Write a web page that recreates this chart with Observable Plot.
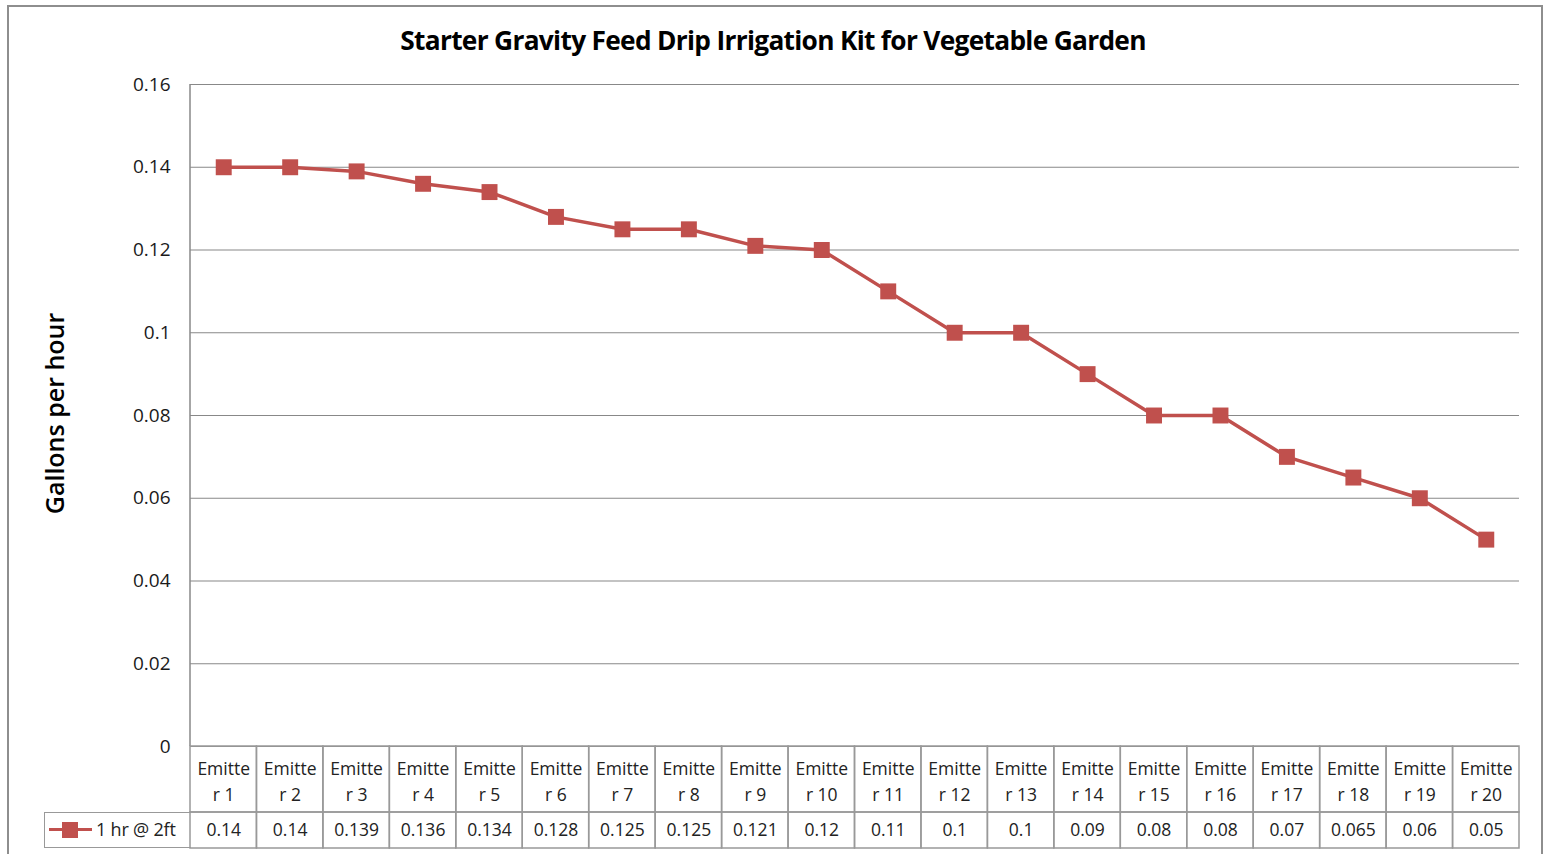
<!DOCTYPE html>
<html><head><meta charset="utf-8">
<script src="https://cdn.jsdelivr.net/npm/d3@7"></script>
<script src="https://cdn.jsdelivr.net/npm/@observablehq/plot@0.6"></script>
<style>
html,body{margin:0;padding:0;background:#fff;width:1546px;height:854px;overflow:hidden;font-family:"Open Sans",sans-serif;}
#frame{position:absolute;left:7px;top:5px;width:1536px;height:900px;border:2px solid #8e8e8e;box-sizing:border-box;}
.abs{position:absolute;}
#title{left:0;width:1546px;top:24px;line-height:32px;text-align:center;font-weight:700;font-size:26.3px;letter-spacing:-0.7px;color:#000;}
#chart{left:0;top:60px;}
#thead{left:0;top:745px;}
#tvals{left:0;top:811px;}
#legend{left:44px;top:812px;width:147px;height:36px;border:1.5px solid #999;border-right:none;box-sizing:border-box;}
#legline{left:4px;top:15px;width:43px;height:3px;background:#c0504d;}
#legsq{left:17px;top:9px;width:16px;height:16px;background:#c0504d;}
#legtxt{left:51px;top:0;line-height:32px;font-size:18px;color:#222;white-space:nowrap;letter-spacing:-0.2px;}
svg{background:transparent !important;}
</style></head>
<body>
<div id="frame"></div>
<div id="title" class="abs">Starter Gravity Feed Drip Irrigation Kit for Vegetable Garden</div>
<div id="chart" class="abs"></div>
<div id="thead" class="abs"></div>
<div id="tvals" class="abs"></div>
<div id="legend" class="abs"><div id="legline" class="abs"></div><div id="legsq" class="abs"></div><div id="legtxt" class="abs"></div></div>
<script>
const categories = ["Emitter 1","Emitter 2","Emitter 3","Emitter 4","Emitter 5","Emitter 6","Emitter 7","Emitter 8","Emitter 9","Emitter 10","Emitter 11","Emitter 12","Emitter 13","Emitter 14","Emitter 15","Emitter 16","Emitter 17","Emitter 18","Emitter 19","Emitter 20"];
const values = [0.14,0.14,0.139,0.136,0.134,0.128,0.125,0.125,0.121,0.12,0.11,0.1,0.1,0.09,0.08,0.08,0.07,0.065,0.06,0.05];
const yTicks = [0,0.02,0.04,0.06,0.08,0.1,0.12,0.14,0.16];
const seriesName = "1 hr @ 2ft";
const yLabel = "Gallons per hour";

const data = categories.map((c,i)=>({cat:c, value:values[i]}));
const RED = "#c0504d", GRID = "#888888", TXT = "#1a1a1a";
const W = 1546, ML = 190, MR = 27;
const H1 = 700, MT1 = 24, MB1 = 14;

document.getElementById("legtxt").textContent = seriesName;

const leftLine = (index, scales, values, dims) => {
  const g = document.createElementNS("http://www.w3.org/2000/svg","line");
  g.setAttribute("x1", dims.marginLeft); g.setAttribute("x2", dims.marginLeft);
  g.setAttribute("y1", dims.marginTop); g.setAttribute("y2", dims.height - dims.marginBottom);
  g.setAttribute("stroke", GRID); g.setAttribute("stroke-width", 1.5);
  return g;
};

const chart = Plot.plot({
  width: W, height: H1,
  marginLeft: ML, marginRight: MR, marginTop: MT1, marginBottom: MB1,
  style: {fontFamily: "Open Sans", background: "transparent", color: TXT},
  x: {type: "point", domain: categories, padding: 0.5, round: false, range: [ML, W - MR], axis: null},
  y: {domain: [0, 0.16], range: [H1 - MB1, MT1], axis: null},
  marks: [
    Plot.gridY(yTicks, {stroke: GRID, strokeOpacity: 1, strokeWidth: 1.2}),
    leftLine,
    Plot.axisY(yTicks, {tickSize: 0, tickPadding: 20, fontSize: 19, label: null, tickFormat: d => String(d), fill: TXT}),
    Plot.text([yLabel], {frameAnchor: "left", textAnchor: "middle", dx: -135, dy: -2, rotate: -90, fontSize: 25, fontWeight: 600, fill: "#000"}),
    Plot.line(data, {x: "cat", y: "value", stroke: RED, strokeWidth: 3.5}),
    Plot.dot(data, {x: "cat", y: "value", symbol: "square", r: 9, fill: RED, stroke: "none"})
  ]
});
document.getElementById("chart").append(chart);

const split = s => s.slice(0,6) + "\n" + s.slice(6);

const thead = Plot.plot({
  width: W, height: 68,
  marginLeft: ML, marginRight: MR, marginTop: 1, marginBottom: 1,
  style: {fontFamily: "Open Sans", background: "transparent"},
  x: {type: "band", domain: categories, padding: 0, round: false, range: [ML, W - MR], axis: null},
  y: {type: "band", domain: ["h"], padding: 0, round: false, range: [1, 67], axis: null},
  marks: [
    Plot.cell(categories, {x: d => d, y: () => "h", fill: "none", stroke: "#999", strokeWidth: 1.5, inset: 0}),
    Plot.text(categories, {x: d => d, y: () => "h", text: split, fontSize: 17.5, lineHeight: 1.48, fill: "#222"})
  ]
});
document.getElementById("thead").append(thead);

const tvals = Plot.plot({
  width: W, height: 38,
  marginLeft: ML, marginRight: MR, marginTop: 1, marginBottom: 1,
  style: {fontFamily: "Open Sans", background: "transparent"},
  x: {type: "band", domain: categories, padding: 0, round: false, range: [ML, W - MR], axis: null},
  y: {type: "band", domain: ["v"], padding: 0, round: false, range: [1, 37], axis: null},
  marks: [
    Plot.cell(data, {x: "cat", y: () => "v", fill: "none", stroke: "#999", strokeWidth: 1.5, inset: 0}),
    Plot.text(data, {x: "cat", y: () => "v", text: d => String(d.value), fontSize: 17.5, fill: "#222"})
  ]
});
document.getElementById("tvals").append(tvals);
</script>
</body></html>
